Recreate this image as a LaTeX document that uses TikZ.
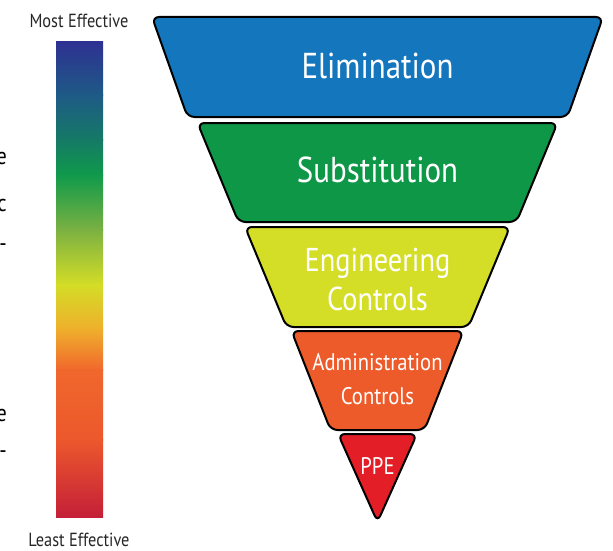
\documentclass[tikz,border=0pt]{standalone}
\usepackage{fontspec}
\setmainfont[FakeStretch=0.86]{PT Sans}
\usepackage{tikz}

\definecolor{elimblue}{HTML}{1476BD}
\definecolor{subgreen}{HTML}{0F9748}
\definecolor{enyellow}{HTML}{D5DE27}
\definecolor{admorange}{HTML}{EE5B2B}
\definecolor{ppered}{HTML}{E31E26}
% colour bar stops
\definecolor{barA}{HTML}{2E3192}
\definecolor{barB}{HTML}{1E5A86}
\definecolor{barC}{HTML}{157A66}
\definecolor{barD}{HTML}{0F9A4A}
\definecolor{barE}{HTML}{7BB142}
\definecolor{barF}{HTML}{D4DD26}
\definecolor{barG}{HTML}{EFAE2C}
\definecolor{barH}{HTML}{F0672C}
\definecolor{barI}{HTML}{EC582C}
\definecolor{barJ}{HTML}{C41F38}

\tikzset{
  tier/.style={draw=black, line width=2pt, rounded corners=7pt},
  tierlabel/.style={text=white, align=center},
  barlabel/.style={text=black!85, inner sep=1pt, font=\fontsize{19}{21}\selectfont}
}

\begin{document}
\begin{tikzpicture}[x=1pt,y=-1pt]
    \def \cx {377.5} % middle of the pyramid
    \useasboundingbox (0,0) rectangle (613,551);
    % colour bar
    \foreach \ya/\yb/\ca/\cb in {42/95/barA/barB, 95/140/barB/barC, 140/175/barC/barD,
      175/230/barD/barE, 230/285/barE/barF, 285/330/barF/barG, 330/370/barG/barH,
      370/440/barH/barI, 440/517/barI/barJ}
    {
      \shade[top color=\ca, bottom color=\cb] (56,\ya-0.4) rectangle (103,\yb+0.4);
    }
    \node[barlabel] (most) at (79,21) {Most Effective};
    \node[barlabel] (least) at (79,540) {Least Effective};
    % cut-off letters at the left edge
    \foreach \y/\t in {158/e, 205/c, 248/-, 415/e, 455/-}
      \node[anchor=east, font=\fontsize{24}{26}\selectfont, inner sep=0pt] at (7,\y) {\t};
    % tiers
    \foreach \yt/\yb/\wt/\wb/\col in {17/117/225.5/190/elimblue, 123/222/180/139/subgreen,
      227/327/132.5/91/enyellow, 331/430/86/47/admorange}
    {
      \draw[tier, fill=\col] (\cx-\wt,\yt) -- (\cx+\wt,\yt) -- (\cx+\wb,\yb)
        -- (\cx-\wb,\yb) -- cycle;
    }
    \draw[tier, fill=ppered] (\cx-39.5,434) -- (\cx+39.5,434) -- (\cx,522) -- cycle;
    % labels
    \node[tierlabel, font=\fontsize{36}{38}\selectfont] (elim) at (\cx,66) {Elimination};
    \node[tierlabel, font=\fontsize{36}{38}\selectfont] (subst) at (\cx,170) {Substitution};
    \node[tierlabel, font=\fontsize{33}{39}\selectfont] (eng) at (\cx,280) {Engineering\\Controls};
    \node[tierlabel, font=\fontsize{24}{34}\selectfont] (adm) at (\cx,379) {Administration\\Controls};
    \node[tierlabel, font=\fontsize{24}{26}\selectfont] (ppe) at (\cx,466) {PPE};
\end{tikzpicture}
\end{document}
